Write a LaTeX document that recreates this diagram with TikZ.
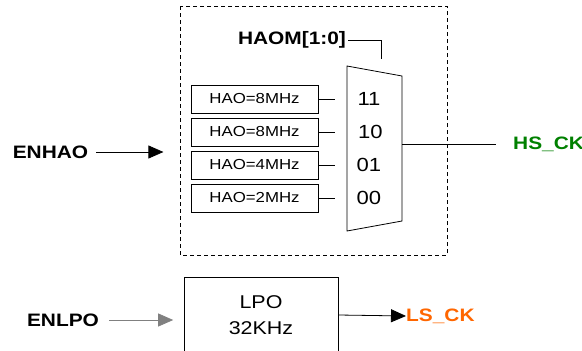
\documentclass[tikz,border=0pt]{standalone}
\usepackage{fontspec}
\setmainfont{Liberation Sans}[FakeStretch=1.16]
\usetikzlibrary{positioning}
\usetikzlibrary{arrows.meta}
\definecolor{hsgreen}{RGB}{0,128,0}
\definecolor{lsorange}{RGB}{255,102,0}
\tikzset{>={Triangle[length=15pt,width=13pt]}}
\tikzset{wire/.style={line width=0.8pt}}
\tikzset{sig/.style={inner sep=0pt,inner xsep=8pt,font=\fontsize{18}{21}\selectfont\bfseries}}
\tikzset{srcbox/.style={draw,line width=0.8pt,minimum width=127pt,minimum height=28pt,inner sep=0pt,font=\fontsize{14.5}{17}\selectfont}}
\tikzset{sel/.style={inner sep=0pt,font=\fontsize{19}{22}\selectfont}}

\begin{document}
\begin{tikzpicture}[x=1pt,y=-1pt]
\useasboundingbox (0,0) rectangle (582,351);
\begin{scope}[on grid]

% HS clock block
\draw[wire,dash pattern=on 4pt off 3pt] (180,6) rectangle (447,255);

\node[sig,inner xsep=0pt] (haom) at (292,40) {HAOM[1:0]};
\coordinate (selend) at (381,59);
\draw[wire] (haom.east) ++(2,0) -| (selend);

\coordinate (mtl) at (347,66);
\coordinate (mtr) at (402,76);
\coordinate (mbr) at (402,221);
\coordinate (mbl) at (347,231);
\draw[wire] (mtl) -- (mtr) -- (mbr) -- (mbl) -- cycle;

\node[srcbox] (h3) at (254.5,99) {HAO=8MHz};
\node[srcbox] (h2) at (254.5,132) {HAO=8MHz};
\node[srcbox] (h1) at (254.5,165) {HAO=4MHz};
\node[srcbox] (h0) at (254.5,198) {HAO=2MHz};

\node[sel] (s3) [right=114.5pt of h3] {11};
\node[sel] (s2) [right=116pt of h2] {10};
\node[sel] (s1) [right=114.5pt of h1] {01};
\node[sel] (s0) [right=114.5pt of h0] {00};

\draw[wire] (h3.east) -- ++(17,0);
\draw[wire] (h2.east) -- ++(17,0);
\draw[wire] (h1.east) -- ++(17,0);
\draw[wire] (h0.east) -- ++(17,0);

\coordinate (mout) at (402,144);
\node[sig,text=hsgreen,anchor=west,inner xsep=0pt] (hsck) at (513,144) {HS\_CK};
\draw[wire] (mout) -- ++(94,0);

\node[sig] (enhao) at (50.5,152) {ENHAO};
\draw[wire,->] (enhao.east) -- ++(67,0);

% LS clock block
\node[draw,line width=0.8pt,minimum width=154pt,minimum height=76pt,inner sep=0pt,
  align=center,font=\fontsize{18.5}{26}\selectfont] (lpo) at (261,315) {LPO\\32KHz};

\node[sig] (enlpo) at (63,320) {ENLPO};
\draw[wire,draw=gray,->] (enlpo.east) ++(2,0) -- ++(64,0);

\node[sig,text=lsorange,anchor=west,inner xsep=0pt] (lsck) at (406,316) {LS\_CK};
\draw[wire,->] (lpo.east) -- (lsck.west);

\end{scope}
\end{tikzpicture}
\end{document}
